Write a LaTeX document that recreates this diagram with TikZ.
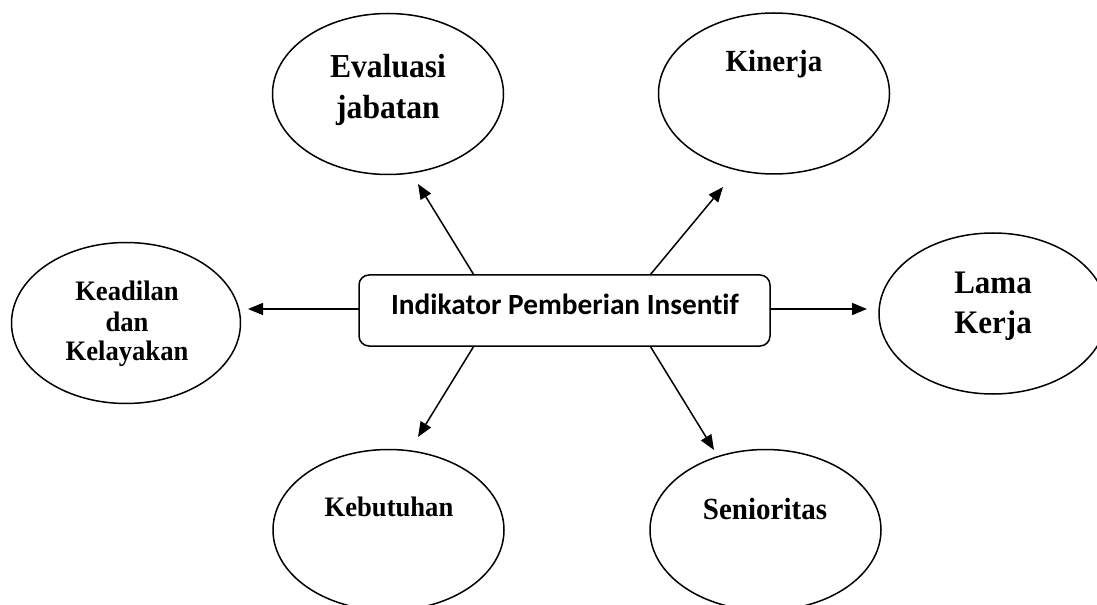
\documentclass[tikz,border=0pt]{standalone}
\usepackage{fontspec}
\setmainfont{Liberation Serif}
\newfontfamily\boxfont[Ligatures=NoCommon]{Carlito}
\usetikzlibrary{arrows.meta,shapes.geometric,calc}
\begin{document}
\begin{tikzpicture}[x=1bp,y=-1bp,
  oval/.style={draw,ellipse,line width=1.5bp,inner sep=0pt,minimum width=231bp,minimum height=161bp},
  lbl/.style={anchor=base,inner sep=0pt,font=\bfseries,yscale=1.06},
  fsA/.style={font={\bfseries\fontsize{31.6bp}{38bp}\selectfont}},
  fsB/.style={font={\bfseries\fontsize{29bp}{35bp}\selectfont}},
  fsC/.style={font={\bfseries\fontsize{26.6bp}{32bp}\selectfont}},
  fsD/.style={font={\bfseries\fontsize{31bp}{37bp}\selectfont}},
  arr/.style={line width=1.5bp,-{Triangle[length=15bp,width=12bp]}},
  mainbox/.style={draw,line width=1.5bp,rounded corners=10bp}]
\useasboundingbox (0,0) rectangle (1097,605);
\clip (0,0) rectangle (1097,605);

% ellipses
\node[oval] (eval) at (388,94) {};
\node[oval] (kin)  at (774,93.5) {};
\node[oval,minimum width=229bp] (kead) at (126,323) {};
\node[oval,minimum width=228bp] (lama) at (993,313.5) {};
\node[oval] (keb)  at (388.5,530) {};
\node[oval] (sen)  at (765.5,530) {};

% labels
\node[lbl,fsA] (evalA) at (388,78) {Evaluasi};
\node[lbl,fsA] (evalB) at (388,119) {jabatan};
\node[lbl,fsB] (kinT) at (774,72) {Kinerja};
\node[lbl,fsC] (keadA) at (127,301) {Keadilan};
\node[lbl,fsC] (keadB) at (127,331) {dan};
\node[lbl,fsC] (keadC) at (127,360) {Kelayakan};
\node[lbl,fsD] (lamaA) at (993,294) {Lama};
\node[lbl,fsD] (lamaB) at (993,333) {Kerja};
\node[lbl,fsC] (kebT) at (389,516) {Kebutuhan};
\node[lbl,fsB] (senT) at (765,519) {Senioritas};

% central box
\draw[mainbox] (359,275) rectangle (770,346);
\coordinate (boxc) at (564.5,310.5);
\node[inner sep=0pt,minimum width=411bp,minimum height=71bp] (box) at (boxc) {};
\node[anchor=base,inner sep=0pt,font={\boxfont\bfseries\fontsize{29.3bp}{35bp}\selectfont}] (boxT) at (565,315) {Indikator Pemberian Insentif};

% arrow tips
\coordinate (tE) at (418,184);
\coordinate (tK) at (723,187);
\coordinate (tKe) at (248,309);
\coordinate (tL) at (867,309);
\coordinate (tKb) at (418,437);
\coordinate (tS) at (714,450);

\draw[arr] ($(box.north west)+(115,0)$) -- (tE);
\draw[arr] ($(box.north east)+(-120,0)$) -- (tK);
\draw[arr] ($(box.west)+(0,-1.5)$) -- (tKe);
\draw[arr] ($(box.east)+(0,-1.5)$) -- (tL);
\draw[arr] ($(box.south west)+(115,0)$) -- (tKb);
\draw[arr] ($(box.south east)+(-120,0)$) -- (tS);
\end{tikzpicture}
\end{document}
